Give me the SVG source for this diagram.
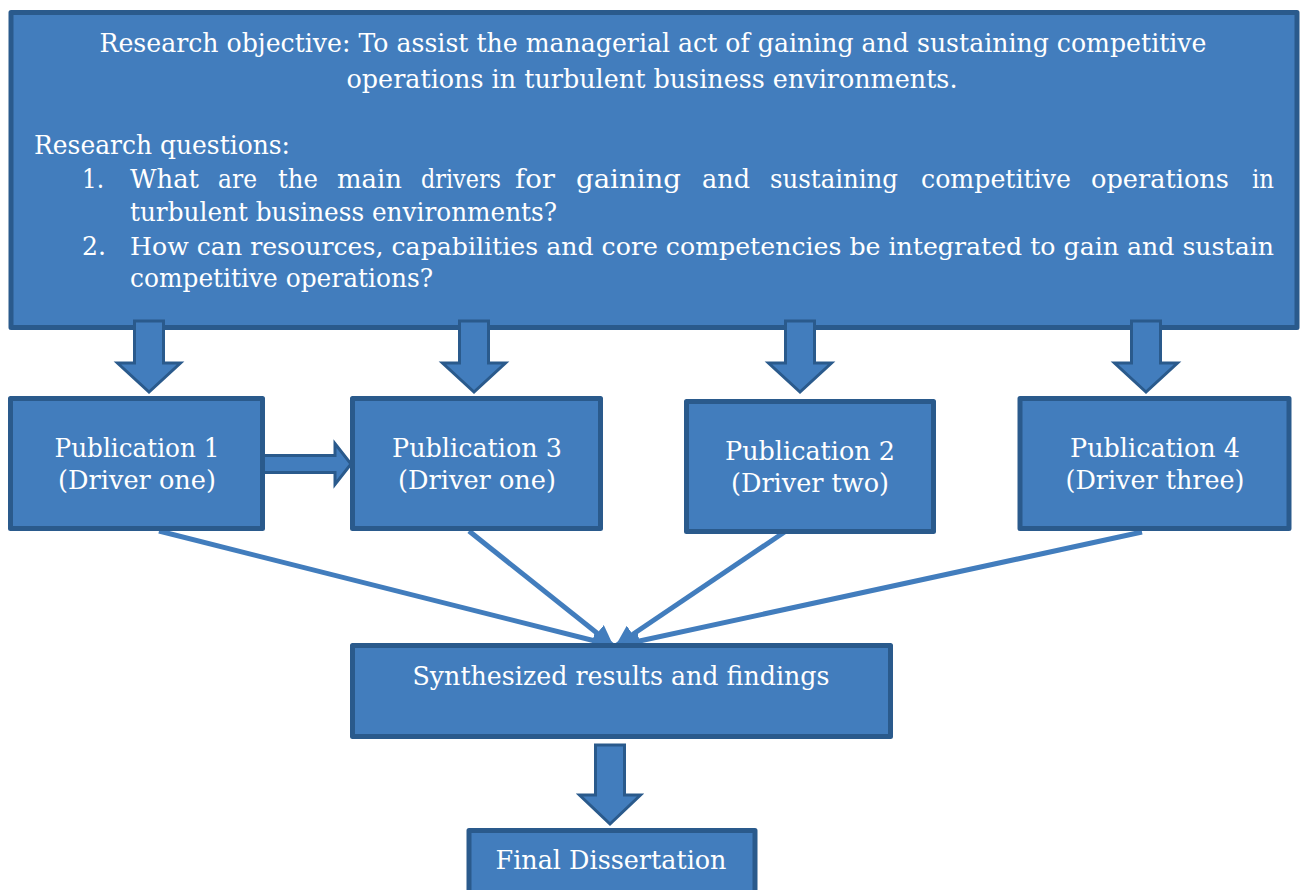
<svg xmlns="http://www.w3.org/2000/svg" width="1304" height="890" viewBox="0 0 1304 890">
<defs>
<style>
.box{fill:#427DBD;stroke:#2A5A8C;stroke-width:5;stroke-linejoin:round}
.blk{fill:#427DBD;stroke:#2A5A8C;stroke-width:3;stroke-linejoin:miter}
.t{font-family:"DejaVu Serif","Liberation Serif",serif;font-size:26.5px;fill:#FFFFFF}
.s{font-size:25px}
.c{text-anchor:middle}
.ln{stroke:#427DBD;stroke-width:5;fill:none}
</style>
<marker id="ah" viewBox="0 0 10 10" refX="9" refY="5" markerWidth="4.2" markerHeight="4.2" orient="auto" markerUnits="strokeWidth">
<path d="M0,0 L10,5 L0,10 Z" fill="#427DBD"/>
</marker>
</defs>
<rect width="1304" height="890" fill="#FFFFFF"/>
<g id="objective">
<rect class="box" x="11" y="12.5" width="1286" height="315"/>
<text class="t c" x="653" y="52" textLength="1107" lengthAdjust="spacingAndGlyphs">Research objective: To assist the managerial act of gaining and sustaining competitive</text>
<text class="t c" x="652" y="88" textLength="611" lengthAdjust="spacingAndGlyphs">operations in turbulent business environments.</text>
<text class="t" x="34" y="154" textLength="256" lengthAdjust="spacingAndGlyphs">Research questions:</text>
<text class="t" x="82" y="188" textLength="22" lengthAdjust="spacingAndGlyphs">1.</text>
<text class="t" x="130" y="188" textLength="69" lengthAdjust="spacingAndGlyphs">What</text>
<text class="t" x="218" y="188" textLength="39" lengthAdjust="spacingAndGlyphs">are</text>
<text class="t" x="278" y="188" textLength="40" lengthAdjust="spacingAndGlyphs">the</text>
<text class="t" x="337" y="188" textLength="65" lengthAdjust="spacingAndGlyphs">main</text>
<text class="t" x="421" y="188" textLength="80" lengthAdjust="spacingAndGlyphs">drivers</text>
<text class="t" x="515" y="188" textLength="40" lengthAdjust="spacingAndGlyphs">for</text>
<text class="t" x="576" y="188" textLength="105" lengthAdjust="spacingAndGlyphs">gaining</text>
<text class="t" x="702" y="188" textLength="48" lengthAdjust="spacingAndGlyphs">and</text>
<text class="t" x="770" y="188" textLength="128" lengthAdjust="spacingAndGlyphs">sustaining</text>
<text class="t" x="921" y="188" textLength="150" lengthAdjust="spacingAndGlyphs">competitive</text>
<text class="t" x="1091" y="188" textLength="138" lengthAdjust="spacingAndGlyphs">operations</text>
<text class="t" x="1252" y="188" textLength="22" lengthAdjust="spacingAndGlyphs">in</text>
<text class="t" x="130" y="221" textLength="427" lengthAdjust="spacingAndGlyphs">turbulent business environments?</text>
<text class="t" x="82" y="255" textLength="24" lengthAdjust="spacingAndGlyphs">2.</text>
<text class="t s" x="130" y="255" textLength="1144" lengthAdjust="spacingAndGlyphs">How can resources, capabilities and core competencies be integrated to gain and sustain</text>
<text class="t" x="130" y="287" textLength="303" lengthAdjust="spacingAndGlyphs">competitive operations?</text>
</g>
<g id="connectors">
<path class="blk" d="M134.5,321 H163.5 V363 H180.5 L149,392 L117.5,363 H134.5 Z"/>
<path class="blk" d="M459.5,321 H488.5 V363 H505.5 L474,392 L442.5,363 H459.5 Z"/>
<path class="blk" d="M785.5,321 H814.5 V363 H831.5 L800,392 L768.5,363 H785.5 Z"/>
<path class="blk" d="M1131.5,321 H1160.5 V363 H1177.5 L1146,392 L1114.5,363 H1131.5 Z"/>
<path class="blk" d="M263,455.5 H335 V443.5 L351,464 L335,484.5 V472.5 H263 Z"/>
<path class="blk" d="M595.5,745 H624.5 V795 H640.5 L610,824 L579.5,795 H595.5 Z"/>
<line class="ln" x1="159" y1="531" x2="611" y2="645" marker-end="url(#ah)"/>
<line class="ln" x1="469" y1="531" x2="612" y2="645" marker-end="url(#ah)"/>
<line class="ln" x1="786" y1="531" x2="617" y2="645" marker-end="url(#ah)"/>
<line class="ln" x1="1142" y1="532" x2="621" y2="645" marker-end="url(#ah)"/>
</g>
<g id="pub1">
<rect class="box" x="10.5" y="398.5" width="252" height="130"/>
<text class="t c" x="137" y="457" textLength="165" lengthAdjust="spacingAndGlyphs">Publication 1</text>
<text class="t c" x="137" y="489" textLength="158" lengthAdjust="spacingAndGlyphs">(Driver one)</text>
</g>
<g id="pub3">
<rect class="box" x="352.5" y="398.5" width="248" height="130"/>
<text class="t c" x="477" y="457" textLength="170" lengthAdjust="spacingAndGlyphs">Publication 3</text>
<text class="t c" x="477" y="489" textLength="158" lengthAdjust="spacingAndGlyphs">(Driver one)</text>
</g>
<g id="pub2">
<rect class="box" x="686.5" y="401.5" width="247" height="130"/>
<text class="t c" x="810" y="460" textLength="170" lengthAdjust="spacingAndGlyphs">Publication 2</text>
<text class="t c" x="810" y="492" textLength="158" lengthAdjust="spacingAndGlyphs">(Driver two)</text>
</g>
<g id="pub4">
<rect class="box" x="1020" y="398.5" width="269" height="130"/>
<text class="t c" x="1155" y="457" textLength="170" lengthAdjust="spacingAndGlyphs">Publication 4</text>
<text class="t c" x="1155" y="489" textLength="179" lengthAdjust="spacingAndGlyphs">(Driver three)</text>
</g>
<g id="synth">
<rect class="box" x="352.5" y="645.5" width="538" height="91"/>
<text class="t c" x="621" y="685" textLength="417" lengthAdjust="spacingAndGlyphs">Synthesized results and findings</text>
</g>
<g id="final">
<rect class="box" x="469" y="830.5" width="286" height="70"/>
<text class="t c" x="611" y="869" textLength="231" lengthAdjust="spacingAndGlyphs">Final Dissertation</text>
</g>
</svg>
